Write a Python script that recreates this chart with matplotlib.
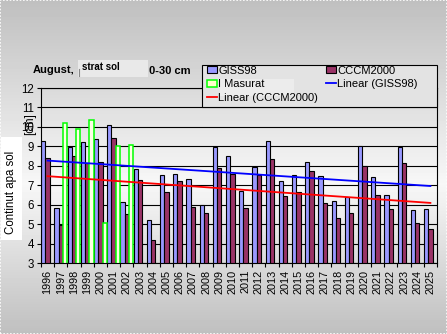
import numpy as np
import matplotlib.pyplot as plt
from matplotlib.patches import Rectangle, Patch
from matplotlib.lines import Line2D

plt.rcParams['font.family'] = ['Liberation Sans', 'DejaVu Sans']

# Datos (continut apa sol, cm)
ani = [str(a) for a in range(1996, 2026)]
giss98 = [9.29, 5.83, 8.98, 9.24, 9.40, 10.12, 6.14, 7.84, 5.21, 7.53,
          7.59, 7.34, 5.97, 8.98, 8.52, 6.72, 7.95, 9.26, 7.24, 7.53,
          8.22, 7.48, 6.19, 6.40, 9.03, 7.43, 6.50, 8.98, 5.72, 5.78]
cccm2000 = [8.41, 4.97, 8.52, 8.16, 8.21, 9.45, 5.50, 7.28, 4.17, 6.66,
            7.24, 5.90, 5.57, 7.90, 7.59, 5.84, 7.53, 8.36, 6.47, 6.67,
            7.71, 6.09, 5.33, 5.57, 8.00, 6.50, 5.78, 8.16, 5.05, 4.74]
ani_masurat = ['1997', '1998', '1999', '2000', '2001', '2002']
masurat = [10.22, 9.91, 10.33, 5.05, 9.03, 9.09]

W, H = 447, 334
fig = plt.figure(figsize=(W / 100, H / 100), dpi=100)


def caja(x0, y0, x1, y1, **kw):
    # rectangulo en pixeles de la figura (origen arriba a la izquierda)
    r = Rectangle((x0 / W, 1 - y1 / H), (x1 - x0) / W, (y1 - y0) / H,
                  transform=fig.transFigure, **kw)
    fig.add_artist(r)


# fondo gris degradado
bg = fig.add_axes([0, 0, 1, 1], zorder=-10)
t = np.linspace(0, 1, H)
niveles = np.interp(t, [0, 0.55, 1], [0.75, 0.97, 0.75])
bg.imshow(np.tile(niveles[:, None], (1, 2)), cmap='gray', vmin=0, vmax=1,
          aspect='auto', extent=[0, 1, 0, 1])
bg.axis('off')
bg.add_patch(Rectangle((0, 0), 1, 1, transform=bg.transAxes, fill=False,
                       edgecolor='white', lw=1.2, ls=(0, (1, 1))))

ax = fig.add_axes([41 / W, 1 - 263 / H, (437 - 41) / W, (263 - 88) / H])
ax.patch.set_alpha(0)

x = np.arange(len(ani))
ancho = 0.32
xm = np.array([ani.index(a) for a in ani_masurat])
ax.bar(x - ancho, giss98, ancho, color='#9999FF', edgecolor='black', linewidth=0.8, zorder=2)
ax.bar(x, cccm2000, ancho, color='#993366', edgecolor='black', linewidth=0.8, zorder=2)
ax.bar(xm + ancho, masurat, ancho, color='#FFFFE6', edgecolor='#00FF00', linewidth=1.1, zorder=2)

# tendencias lineales
for serie, col in [(giss98, '#0000FF'), (cccm2000, '#FF0000')]:
    p = np.polyfit(x, serie, 1)
    ax.plot(x, np.polyval(p, x), color=col, lw=1.3, zorder=3)

ax.set_xlim(-0.5, len(ani) - 0.5)
ax.set_ylim(3, 12)
ax.set_yticks(range(3, 13))
ax.yaxis.grid(True, color='black', lw=0.8)
ax.set_axisbelow(True)
ax.set_xticks(x)
ax.set_xticklabels(ani, rotation=90, fontsize=7.8)
ax.set_xticks(np.arange(-0.5, len(ani), 1), minor=True)
ax.tick_params(axis='x', which='major', length=0, pad=5)
ax.tick_params(axis='x', which='minor', length=3, width=0.8)
ax.tick_params(axis='y', length=3, width=0.8, labelsize=8.3, pad=2)
for s in ax.spines.values():
    s.set_color('black')
    s.set_linewidth(0.8)

# titulo
fig.text(33 / W, 1 - 70 / H, 'August,', fontsize=8, fontweight='bold', va='center')
caja(78, 60, 148, 77, facecolor='#e9e9e9', edgecolor='none', zorder=1)
fig.add_artist(Line2D([78.5 / W, 78.5 / W], [1 - 76 / H, 1 - 69 / H], color='#888888', lw=0.8))
fig.text(82 / W, 1 - 67 / H, 'strat sol', fontsize=7, fontweight='bold', va='center')
fig.text(149 / W, 1 - 70.5 / H, '0-30 cm', fontsize=8, fontweight='bold', va='center')

# etiquetas eje y
caja(1, 137, 22, 240, facecolor='white', edgecolor='none', zorder=1)
fig.text(11.5 / W, 1 - 192 / H, 'Continut apa sol', rotation=90, fontsize=8.3,
         ha='center', va='center')
fig.text(30 / W, 1 - 124 / H, '[cm]', rotation=90, fontsize=8.3, ha='center', va='center')

# leyenda
caja(201.5, 64.5, 437, 106.7, facecolor='#e3e3e3', edgecolor='black', lw=0.8, zorder=4)
caja(220, 79, 294, 96, facecolor='#ececec', edgecolor='none', zorder=4.5)
manijas = [Patch(facecolor='#9999FF', edgecolor='black', lw=0.8),
           Patch(facecolor='#FFFFCC', edgecolor='#00FF00', lw=1.1),
           Line2D([], [], color='#FF0000', lw=1.3),
           Patch(facecolor='#993366', edgecolor='black', lw=0.8),
           Line2D([], [], color='#0000FF', lw=1.3)]
etiquetas = ['GISS98', 'I Masurat', 'Linear (CCCM2000)', 'CCCM2000', 'Linear (GISS98)']
leg = fig.legend(manijas, etiquetas, ncol=2, loc='upper left',
                 bbox_to_anchor=(207 / W, 1 - 65.5 / H),
                 fontsize=8, handlelength=0.9, handleheight=0.6, handletextpad=0.12,
                 labelspacing=0.33, borderpad=0, borderaxespad=0, columnspacing=0.7,
                 frameon=False)
leg.set_zorder(5)

fig.savefig('out.png', dpi=100)
